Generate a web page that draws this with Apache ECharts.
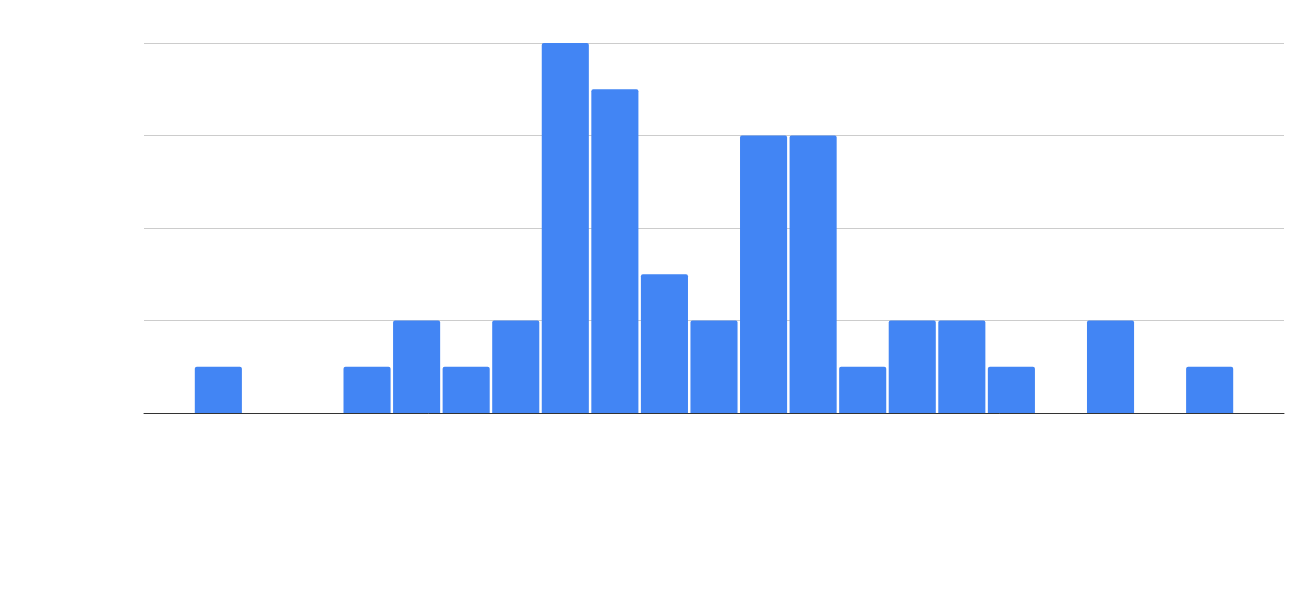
<!DOCTYPE html>
<html>
<head>
<meta charset="utf-8">
<script src="https://cdn.jsdelivr.net/npm/echarts@6/dist/echarts.min.js"></script>
<style>
  html, body { margin: 0; padding: 0; background: #fff; }
  #chart { width: 1313px; height: 591px; }
</style>
</head>
<body>
<div id="chart"></div>
<script>
// 23 buckets, labels are not shown in the picture
var categories = ['1', '2', '3', '4', '5', '6', '7', '8', '9', '10', '11', '12',
  '13', '14', '15', '16', '17', '18', '19', '20', '21', '22', '23'];
var counts = [0, 1, 0, 0, 1, 2, 1, 2, 8, 7, 3, 2, 6, 6, 1, 2, 2, 1, 0, 2, 0, 1, 0];
var yTicks = { min: 0, max: 8, interval: 2 };

var chart = echarts.init(document.getElementById('chart'));
chart.setOption({
  animation: false,
  grid: {
    left: 144,
    right: 29,
    top: 43,
    bottom: 178,
    containLabel: false
  },
  xAxis: {
    type: 'category',
    data: categories,
    axisLine: { show: true, lineStyle: { color: '#333', width: 1 } },
    axisTick: { show: false },
    axisLabel: { show: false }
  },
  yAxis: {
    type: 'value',
    min: yTicks.min,
    max: yTicks.max,
    interval: yTicks.interval,
    axisLine: { show: false },
    axisTick: { show: false },
    axisLabel: { show: false },
    splitLine: { show: true, lineStyle: { color: '#cccccc', width: 1 } }
  },
  series: [{
    type: 'bar',
    data: counts,
    barCategoryGap: '5%',
    itemStyle: {
      color: '#4285F4',
      borderRadius: [2, 2, 0, 0]
    }
  }]
});
</script>
</body>
</html>
